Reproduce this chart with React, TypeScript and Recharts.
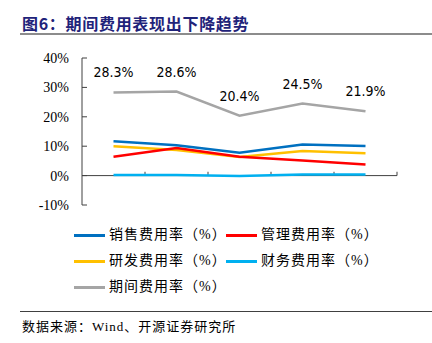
import React from 'react';
import { LineChart, Line, XAxis, YAxis, ReferenceLine, LabelList } from 'recharts';

const years = ['2018', '2019', '2020', '2021', '2022'];
const salesRate = [11.7, 10.3, 7.8, 10.6, 10.1];
const adminRate = [6.4, 9.4, 6.4, 5.1, 3.8];
const rndRate = [10.0, 8.7, 6.3, 8.4, 7.6];
const financeRate = [0.2, 0.2, -0.1, 0.4, 0.4];
const totalRate = [28.3, 28.6, 20.4, 24.5, 21.9];
const yTicks = [-10, 0, 10, 20, 30, 40];

const seriesNames = ['销售费用率（%）', '管理费用率（%）', '研发费用率（%）', '财务费用率（%）', '期间费用率（%）'];
const seriesKeys = ['sales', 'admin', 'rnd', 'finance', 'total'];
const seriesColors = ['#0070C0', '#FF0000', '#FFC000', '#00B0F0', '#A5A5A5'];

const data = years.map((y, i) => ({
  x: i + 1,
  year: y,
  sales: salesRate[i],
  admin: adminRate[i],
  rnd: rndRate[i],
  finance: financeRate[i],
  total: totalRate[i],
}));

const serif = "'Liberation Serif', 'Times New Roman', serif";
const cjk = "'Liberation Serif', 'Noto Sans CJK SC', serif";
const axisColor = '#404040';

const XTick = (props: any) => {
  const { x, y, payload } = props;
  return (
    <text x={x} y={y - 7} textAnchor="middle" fontFamily={serif} fontSize={14} fill="#000">
      {years[payload.value - 1]}
    </text>
  );
};

const YTick = (props: any) => {
  const { x, y, payload } = props;
  return (
    <g>
      <line x1={x} x2={x + 5} y1={y} y2={y} stroke={axisColor} strokeWidth={1} />
      <text x={x - 13} y={y} dy="0.35em" textAnchor="end" fontFamily={serif} fontSize={14} fill="#000">
        {payload.value}%
      </text>
    </g>
  );
};

const legendPos = [
  { left: 74, top: 235 },
  { left: 226, top: 235 },
  { left: 74, top: 261 },
  { left: 226, top: 261 },
  { left: 74, top: 287 },
];

export default function App() {
  return (
    <div style={{ position: 'absolute', left: 0, top: 0, width: 432, height: 343, background: '#fff', overflow: 'hidden' }}>
      <div
        style={{
          position: 'absolute',
          left: 22,
          top: 12,
          fontFamily: "'Noto Sans CJK SC', sans-serif",
          fontWeight: 700,
          fontSize: 16,
          letterSpacing: 0.7,
          lineHeight: '22px',
          color: '#1F237A',
          whiteSpace: 'nowrap',
        }}
      >
        图6：期间费用表现出下降趋势
      </div>
      <div style={{ position: 'absolute', left: 20, top: 33, width: 412, height: 2, background: '#8C8C8C' }} />

      <div style={{ position: 'absolute', left: 0, top: 0 }}>
        <LineChart width={432} height={343} data={data} margin={{ top: 58, right: 35, bottom: 138, left: 32 }}>
          <XAxis
            dataKey="x"
            type="number"
            domain={[0.5, 5.5]}
            ticks={[1, 2, 3, 4, 5]}
            interval={0}
            axisLine={false}
            tickLine={false}
            tickSize={0}
            tickMargin={0}
            height={0}
            tick={XTick}
          />
          <YAxis
            type="number"
            domain={[-10, 40]}
            ticks={yTicks}
            interval={0}
            width={50}
            axisLine={{ stroke: axisColor, strokeWidth: 1 }}
            tickLine={false}
            tickSize={0}
            tickMargin={0}
            tick={YTick}
          />
          <ReferenceLine y={0} stroke={axisColor} strokeWidth={1} />
          {[1.5, 2.5, 3.5, 4.5, 5.5].map((v) => (
            <ReferenceLine
              key={v}
              segment={[
                { x: v, y: 0 },
                { x: v, y: 1.3 },
              ]}
              stroke={axisColor}
              strokeWidth={1}
            />
          ))}
          <Line dataKey="total" stroke={seriesColors[4]} strokeWidth={2.5} dot={false} isAnimationActive={false}>
            <LabelList
              dataKey="total"
              position="top"
              offset={15}
              formatter={(v: any) => `${Number(v).toFixed(1)}%`}
              fill="#000"
              fontSize={14}
              fontFamily="'Liberation Sans Narrow', 'DejaVu Sans Condensed', 'Liberation Sans', sans-serif"
            />
          </Line>
          <Line dataKey="rnd" stroke={seriesColors[2]} strokeWidth={2.5} dot={false} isAnimationActive={false} />
          <Line dataKey="admin" stroke={seriesColors[1]} strokeWidth={2.5} dot={false} isAnimationActive={false} />
          <Line dataKey="sales" stroke={seriesColors[0]} strokeWidth={2.5} dot={false} isAnimationActive={false} />
          <Line dataKey="finance" stroke={seriesColors[3]} strokeWidth={2.5} dot={false} isAnimationActive={false} />
        </LineChart>
      </div>

      {seriesNames.map((name, i) => (
        <div key={seriesKeys[i]} style={{ position: 'absolute', left: legendPos[i].left, top: legendPos[i].top - 10, height: 20, display: 'flex', alignItems: 'center', whiteSpace: 'nowrap' }}>
          <div style={{ width: 31, height: 3, background: seriesColors[i], marginRight: 4 }} />
          <span style={{ fontFamily: cjk, fontSize: 14, letterSpacing: 1, color: '#000', lineHeight: '20px' }}>{name}</span>
        </div>
      ))}

      <div style={{ position: 'absolute', left: 20, top: 311, width: 412, height: 1, background: '#404040' }} />
      <div
        style={{
          position: 'absolute',
          left: 22,
          top: 318,
          fontFamily: cjk,
          fontSize: 13,
          letterSpacing: 1,
          lineHeight: '18px',
          color: '#000',
          whiteSpace: 'nowrap',
        }}
      >
        数据来源：Wind、开源证券研究所
      </div>
    </div>
  );
}
